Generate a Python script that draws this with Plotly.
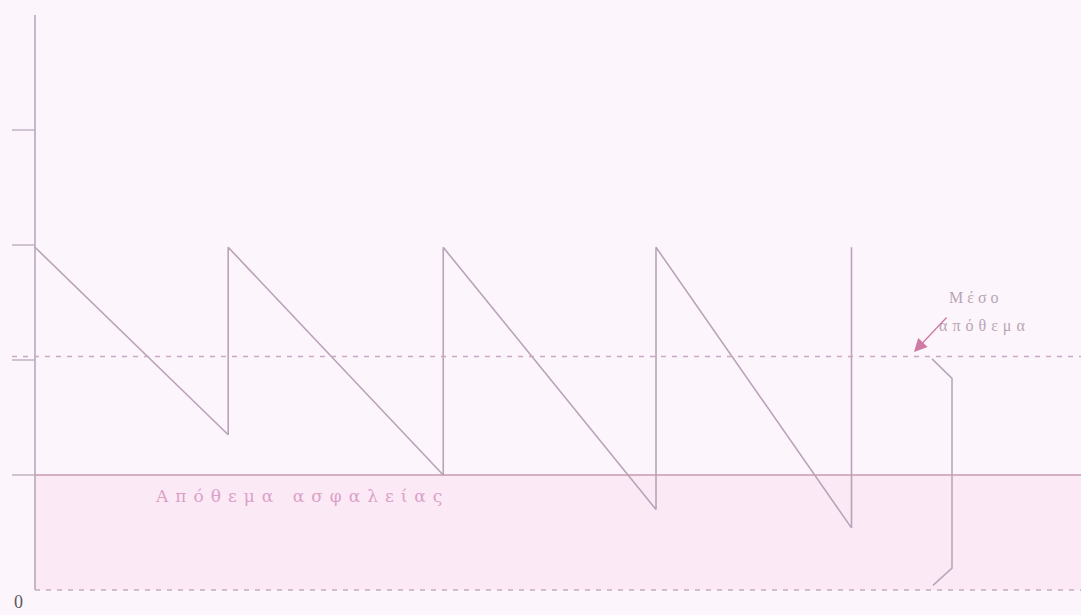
import plotly.graph_objects as go

# ---- data (inventory units / time units) ----
cycle_ends = [1.68, 3.55, 5.40, 7.10]      # times of replenishment
order_up_to = 2.98                          # peak inventory level
troughs = [1.35, 1.00, 0.70, 0.54]          # level just before replenishment
safety_stock = 1.0
average_stock = 2.03
y_ticks = [1, 2, 3, 4]
axis_top = 5.0
label_avg = ["Μέσο", "απόθεμα"]
label_safety = "Απόθεμα ασφαλείας"
label_zero = "0"

# pixel <-> data mapping helpers (115 px per unit, origin at (35, 590))
X0, Y0, S = 35, 590, 115.0
W, H = 1081, 615
xr = [(0 - X0) / S, (W - X0) / S]
yr = [(Y0 - H) / S, Y0 / S]

bg = "#fdf5fc"
band = "#fbe9f6"
saw_col = "#b9a3b9"
axis_col = "#b8a8bc"
safety_col = "#c99ab3"
dash_col = "#c9a9c3"

fig = go.Figure()

# sawtooth
sx, sy = [0], [order_up_to]
for t, lo in zip(cycle_ends, troughs):
    sx += [t, t]
    sy += [lo, order_up_to]
fig.add_trace(go.Scatter(x=sx, y=sy, mode="lines",
                         line=dict(color=saw_col, width=1.6),
                         hoverinfo="skip", showlegend=False))

shapes = []
# safety-stock band
shapes.append(dict(type="rect", x0=0, x1=xr[1], y0=0, y1=safety_stock,
                   fillcolor=band, line=dict(width=0), layer="below"))
# y axis line
shapes.append(dict(type="line", x0=0, x1=0, y0=0, y1=axis_top,
                   line=dict(color=axis_col, width=1.6)))
# tick marks
for t in y_ticks:
    shapes.append(dict(type="line", x0=-0.2, x1=0, y0=t, y1=t,
                       line=dict(color=axis_col, width=1.3)))
# safety stock line
shapes.append(dict(type="line", x0=0, x1=xr[1], y0=safety_stock, y1=safety_stock,
                   line=dict(color=safety_col, width=1.6)))
# average stock dashed line
shapes.append(dict(type="line", x0=-0.2, x1=xr[1], y0=average_stock, y1=average_stock,
                   line=dict(color=dash_col, width=1.4, dash="5px,6px")))
# zero dashed line
shapes.append(dict(type="line", x0=0, x1=xr[1], y0=0, y1=0,
                   line=dict(color=dash_col, width=1.4, dash="5px,6px")))

# brace from average stock down to zero
bx = [(932 - X0) / S, (952 - X0) / S, (952 - X0) / S, (933 - X0) / S]
by = [average_stock - 0.02, average_stock - 0.19, 0.19, 0.04]
fig.add_trace(go.Scatter(x=bx, y=by, mode="lines",
                         line=dict(color=axis_col, width=1.6),
                         hoverinfo="skip", showlegend=False))

annotations = [
    dict(x=(976 - X0) / S, y=(Y0 - 297) / S, text=f'<span style="letter-spacing:4px">{label_avg[0]}</span>',
         showarrow=False, font=dict(family="Liberation Serif", size=16, color="#b8a6b4")),
    dict(x=(984 - X0) / S, y=(Y0 - 326) / S, text=f'<span style="letter-spacing:5px">{label_avg[1]}</span>',
         showarrow=False, font=dict(family="Liberation Serif", size=16, color="#b8a6b4")),
    dict(x=(302 - X0) / S, y=(Y0 - 496) / S, text=f'<span style="letter-spacing:7px">{label_safety}</span>',
         showarrow=False, font=dict(family="DejaVu Serif", size=17, color="#dca0c6")),
    dict(x=(18 - X0) / S, y=(Y0 - 602) / S, text=label_zero,
         showarrow=False, font=dict(family="Liberation Serif", size=18, color="#5e565e")),
    dict(x=(914 - X0) / S, y=(Y0 - 352) / S, ax=34, ay=-36, text="",
         showarrow=True, arrowhead=2, arrowsize=2, arrowwidth=1.3, arrowcolor="#cf7aa3"),
]

fig.update_layout(
    width=W, height=H,
    margin=dict(l=0, r=0, t=0, b=0),
    paper_bgcolor=bg, plot_bgcolor=bg,
    xaxis=dict(range=xr, visible=False, fixedrange=True),
    yaxis=dict(range=yr, visible=False, fixedrange=True),
    shapes=shapes, annotations=annotations,
    showlegend=False,
)

fig.write_html("out.html", config={"displayModeBar": False},
               post_script="document.body.style.margin='0';document.body.style.overflow='hidden';")
